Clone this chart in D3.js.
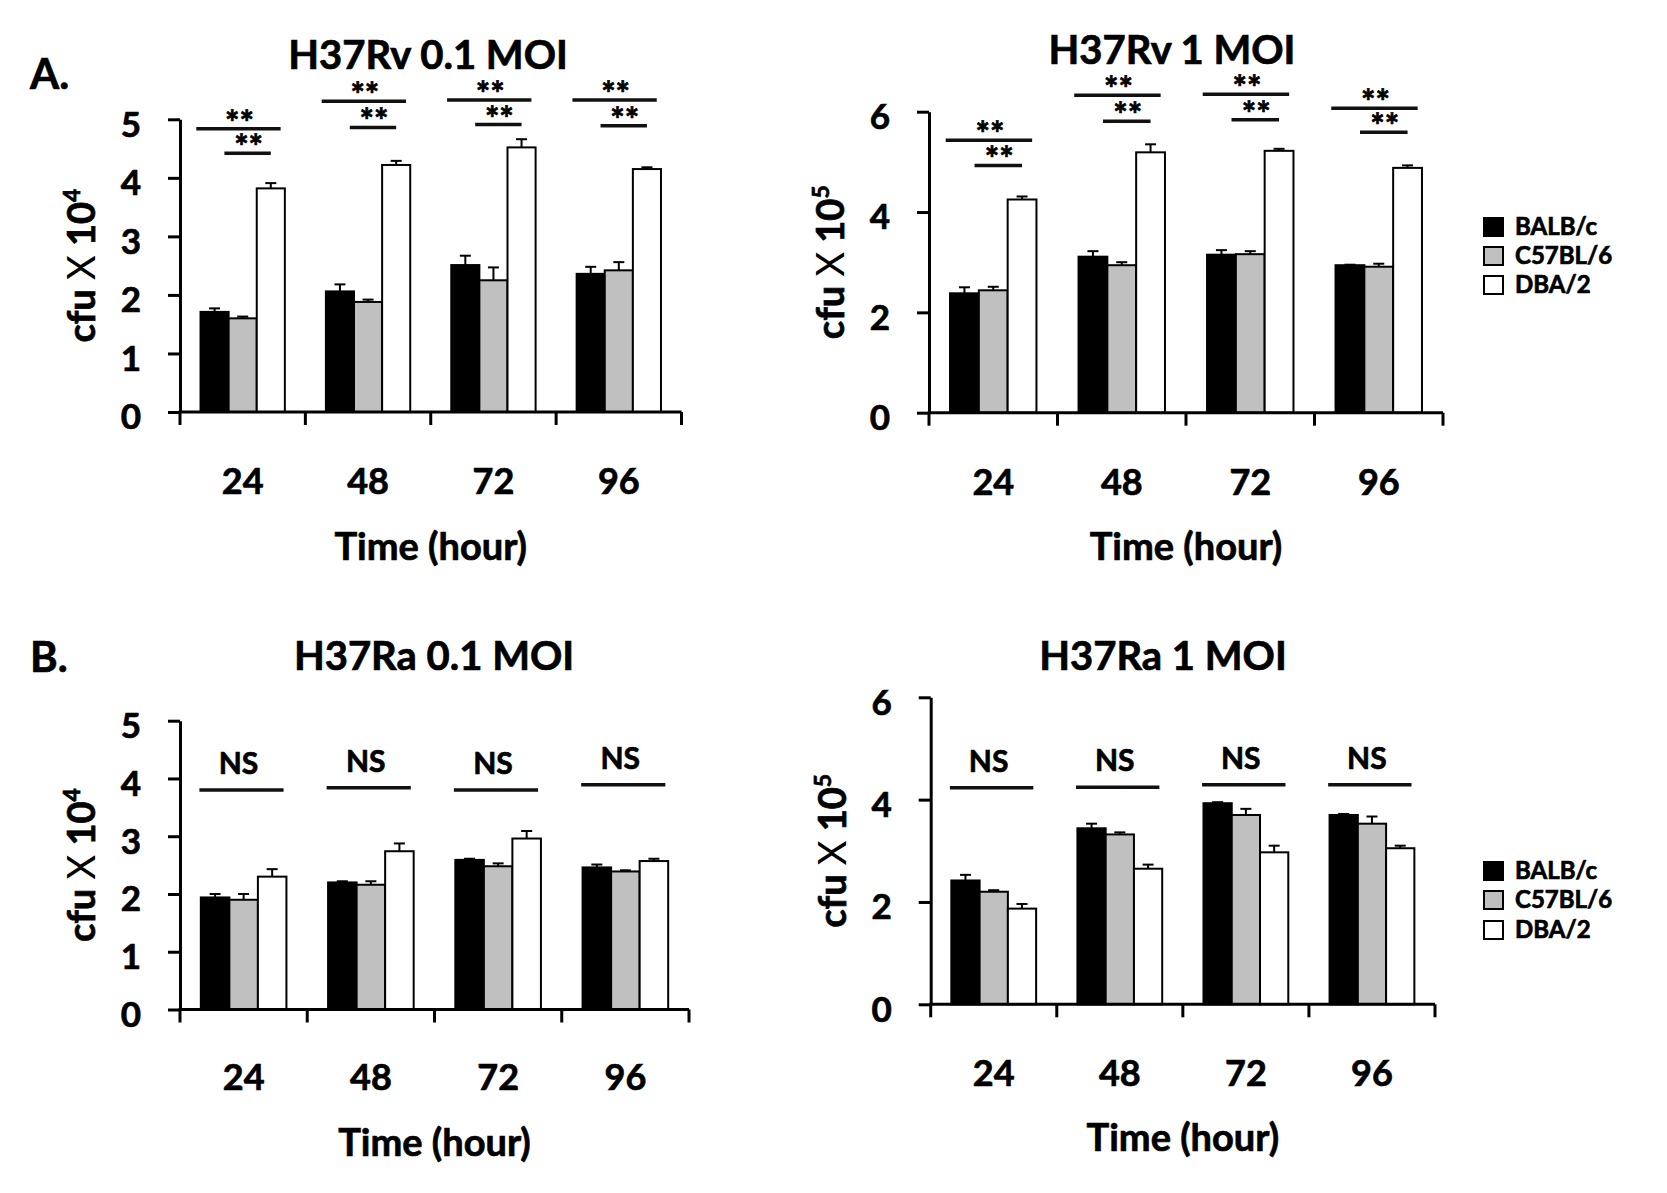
<!DOCTYPE html>
<html><head><meta charset="utf-8">
<script src="https://cdn.jsdelivr.net/npm/d3@7"></script>
<style>
body{margin:0;background:#fff;}
svg{display:block;font-family:Lato,"Open Sans",sans-serif;font-weight:bold;}
svg text{stroke:#000;stroke-width:0.7px;paint-order:stroke;}
</style></head><body>
<svg id="chart" width="1667" height="1193"></svg>
<script>
// ---------- data ----------
const categories = ["24","48","72","96"];
const seriesNames = ["BALB/c","C57BL/6","DBA/2"];
const seriesColors = ["#000000","#c0c0c0","#ffffff"];
const yTicks5 = [0,1,2,3,4,5];
const yTicks6 = [0,2,4,6];

// H37Rv 0.1 MOI (cfu x 10^4)
const rv01Balb = [1.71,2.06,2.51,2.36];
const rv01BalbErr = [0.06,0.12,0.16,0.12];
const rv01C57 = [1.60,1.88,2.25,2.42];
const rv01C57Err = [0.03,0.04,0.22,0.14];
const rv01Dba = [3.82,4.22,4.52,4.15];
const rv01DbaErr = [0.09,0.07,0.14,0.03];
const rv01SigLong = [4.84,5.31,5.33,5.33];
const rv01SigShort = [4.42,4.86,4.91,4.89];

// H37Rv 1 MOI (cfu x 10^5)
const rv1Balb = [2.38,3.11,3.15,2.94];
const rv1BalbErr = [0.12,0.11,0.09,0.01];
const rv1C57 = [2.44,2.94,3.16,2.91];
const rv1C57Err = [0.07,0.06,0.06,0.06];
const rv1Dba = [4.25,5.19,5.22,4.88];
const rv1DbaErr = [0.06,0.16,0.04,0.05];
const rv1SigLong = [5.43,6.33,6.35,6.07];
const rv1SigShort = [4.93,5.81,5.84,5.59];

// H37Ra 0.1 MOI (cfu x 10^4)
const ra01Balb = [1.94,2.20,2.59,2.46];
const ra01BalbErr = [0.06,0.02,0.02,0.05];
const ra01C57 = [1.90,2.16,2.48,2.39];
const ra01C57Err = [0.10,0.06,0.05,0.02];
const ra01Dba = [2.30,2.74,2.96,2.57];
const ra01DbaErr = [0.13,0.135,0.13,0.04];
const ra01NS = [3.80,3.84,3.80,3.89];

// H37Ra 1 MOI (cfu x 10^5)
const ra1Balb = [2.42,3.44,3.93,3.70];
const ra1BalbErr = [0.11,0.09,0.02,0.02];
const ra1C57 = [2.20,3.32,3.70,3.53];
const ra1C57Err = [0.03,0.04,0.12,0.14];
const ra1Dba = [1.87,2.65,2.97,3.05];
const ra1DbaErr = [0.09,0.08,0.13,0.05];
const ra1NS = [4.23,4.24,4.29,4.29];

// ---------- drawing ----------
const svg = d3.select("#chart");
const INK = "#000";

const panels = [
  {title:"H37Rv 0.1 MOI", letter:"A.", letterY:89, exp:"4", yMax:5, yTicks:yTicks5,
   values:[rv01Balb,rv01C57,rv01Dba], errs:[rv01BalbErr,rv01C57Err,rv01DbaErr],
   sigLong:rv01SigLong, sigShort:rv01SigShort, legend:false,
   L:{left:180,right:681.5,y0:412,yTop:119.3,titleX:428,titleY:69,xTitleDy:148,xTickDy:82}},
  {title:"H37Rv 1 MOI", exp:"5", yMax:6, yTicks:yTicks6,
   values:[rv1Balb,rv1C57,rv1Dba], errs:[rv1BalbErr,rv1C57Err,rv1DbaErr],
   sigLong:rv1SigLong, sigShort:rv1SigShort, legend:true, legendY:[227,256,285],
   L:{left:929,right:1443,y0:412.7,yTop:111.7,titleX:1172,titleY:64,xTitleDy:147,xTickDy:82}},
  {title:"H37Ra 0.1 MOI", letter:"B.", letterY:672, exp:"4", yMax:5, yTicks:yTicks5,
   values:[ra01Balb,ra01C57,ra01Dba], errs:[ra01BalbErr,ra01C57Err,ra01DbaErr],
   ns:ra01NS, legend:false,
   L:{left:180,right:689,y0:1009.5,yTop:720.7,titleX:434,titleY:670,xTitleDy:146,xTickDy:80}},
  {title:"H37Ra 1 MOI", exp:"5", yMax:6, yTicks:yTicks6,
   values:[ra1Balb,ra1C57,ra1Dba], errs:[ra1BalbErr,ra1C57Err,ra1DbaErr],
   ns:ra1NS, legend:true, legendY:[871,900,930],
   L:{left:930.7,right:1435,y0:1004.3,yTop:697.3,titleX:1163,titleY:670,xTitleDy:147,xTickDy:82}}
];

function drawPanel(p){
  const L = p.L;
  const g = svg.append("g");
  const x0 = d3.scaleBand().domain(categories).range([L.left, L.right]).padding(0);
  const x1 = d3.scaleBand().domain(seriesNames).range([0, x0.bandwidth()]).paddingInner(0).paddingOuter(0.73);
  const y = d3.scaleLinear().domain([0, p.yMax]).range([L.y0, L.yTop]);
  const bw = x1.bandwidth();

  // bars + error bars
  seriesNames.forEach((s, si) => {
    const vals = p.values[si], errs = p.errs[si];
    const bars = g.append("g");
    bars.selectAll("rect").data(vals).join("rect")
      .attr("x", (d,i) => x0(categories[i]) + x1(s))
      .attr("y", d => y(d))
      .attr("width", bw)
      .attr("height", d => y(0) - y(d))
      .attr("fill", seriesColors[si])
      .attr("stroke", INK).attr("stroke-width", 2);
    const eb = g.append("g").attr("stroke", INK).attr("stroke-width", 2);
    vals.forEach((v, i) => {
      const cx = x0(categories[i]) + x1(s) + bw/2;
      eb.append("line").attr("x1", cx).attr("x2", cx).attr("y1", y(v)).attr("y2", y(v + errs[i]));
      eb.append("line").attr("x1", cx - 5.5).attr("x2", cx + 5.5).attr("y1", y(v + errs[i])).attr("y2", y(v + errs[i]));
    });
  });

  // y axis
  const ya = g.append("g").attr("transform", `translate(${L.left},0)`)
    .call(d3.axisLeft(y).tickValues(p.yTicks).tickSize(12).tickPadding(27).tickSizeOuter(0).tickFormat(d3.format("d")));
  ya.attr("font-family", null).attr("font-size", null);
  ya.select(".domain").attr("stroke", INK).attr("stroke-width", 3);
  ya.selectAll(".tick line").attr("stroke", INK).attr("stroke-width", 3);
  ya.selectAll(".tick text").attr("fill", INK).attr("font-size", 35).attr("font-weight", "bold").attr("dy", "0.48em");

  // x axis line and boundary ticks
  g.append("line").attr("x1", L.left - 1.5).attr("x2", L.right).attr("y1", L.y0).attr("y2", L.y0)
    .attr("stroke", INK).attr("stroke-width", 3);
  const bounds = categories.map(c => x0(c)).concat([x0.range()[1]]);
  g.selectAll(null).data(bounds).join("line")
    .attr("x1", d => d).attr("x2", d => d).attr("y1", L.y0).attr("y2", L.y0 + 13)
    .attr("stroke", INK).attr("stroke-width", 3);
  const xa = g.append("g").attr("transform", `translate(0,${L.y0})`)
    .call(d3.axisBottom(x0).tickSize(0));
  xa.attr("font-family", null).attr("font-size", null);
  xa.select(".domain").remove();
  xa.selectAll(".tick text").attr("fill", INK).attr("font-size", 36).attr("font-weight", "bold")
    .attr("dy", null).attr("y", L.xTickDy);

  // axis titles
  g.append("text").attr("x", (L.left + L.right)/2).attr("y", L.y0 + L.xTitleDy)
    .attr("text-anchor", "middle").attr("font-size", 38).attr("fill", INK).text("Time (hour)");
  const yl = g.append("text")
    .attr("transform", `translate(${L.left - 85},${(L.y0 + L.yTop)/2}) rotate(-90)`)
    .attr("text-anchor", "middle").attr("font-size", 38).attr("fill", INK);
  yl.append("tspan").text("cfu ");
  yl.append("tspan").attr("font-weight", "normal").style("stroke-width", "0px").text("X");
  yl.append("tspan").text(" 10");
  yl.append("tspan").attr("font-size", 23).attr("dy", -15).text(p.exp);

  // title and panel letter
  g.append("text").attr("x", L.titleX).attr("y", L.titleY).attr("text-anchor", "middle")
    .attr("font-size", 40).attr("fill", INK).text(p.title);
  if (p.letter) {
    g.append("text").attr("x", 30).attr("y", p.letterY).attr("font-size", 42).attr("fill", INK).text(p.letter);
  }

  // significance annotations
  const ann = g.append("g");
  if (p.sigLong) {
    categories.forEach((c, i) => {
      const xb = x0(c) + x1(seriesNames[0]), xg = x0(c) + x1(seriesNames[1]), xw = x0(c) + x1(seriesNames[2]);
      const segs = [
        {a: xb - 0.15*bw, b: xw + 0.85*bw, lvl: p.sigLong[i]},
        {a: xg - 0.15*bw, b: xw + 0.5*bw, lvl: p.sigShort[i]}
      ];
      segs.forEach(sg => {
        ann.append("line").attr("x1", sg.a).attr("x2", sg.b).attr("y1", y(sg.lvl)).attr("y2", y(sg.lvl))
          .attr("stroke", "#111").attr("stroke-width", 3.5);
        ann.append("text").attr("x", (sg.a + sg.b)/2 + 1).attr("y", y(sg.lvl) + 6)
          .attr("text-anchor", "middle").attr("font-size", 34).attr("fill", INK).text("**");
      });
    });
  }
  if (p.ns) {
    categories.forEach((c, i) => {
      const xb = x0(c) + x1(seriesNames[0]), xw = x0(c) + x1(seriesNames[2]);
      const a = xb - 0.05*bw, b = xw + 0.9*bw;
      ann.append("line").attr("x1", a).attr("x2", b).attr("y1", y(p.ns[i])).attr("y2", y(p.ns[i]))
        .attr("stroke", "#111").attr("stroke-width", 3.5);
      ann.append("text").attr("x", (a + b)/2 - 3).attr("y", y(p.ns[i]) - 16)
        .attr("text-anchor", "middle").attr("font-size", 30).attr("fill", INK).text("NS");
    });
  }

  // legend
  if (p.legend) {
    const lg = g.append("g");
    seriesNames.forEach((s, si) => {
      const cy = p.legendY[si];
      lg.append("rect").attr("x", 1484).attr("y", cy - 9).attr("width", 19).attr("height", 18)
        .attr("fill", seriesColors[si]).attr("stroke", INK).attr("stroke-width", 2);
      lg.append("text").attr("x", 1515).attr("y", cy + 8).attr("font-size", 24).attr("fill", INK).text(s);
    });
  }
}

panels.forEach(drawPanel);
</script>
</body></html>
